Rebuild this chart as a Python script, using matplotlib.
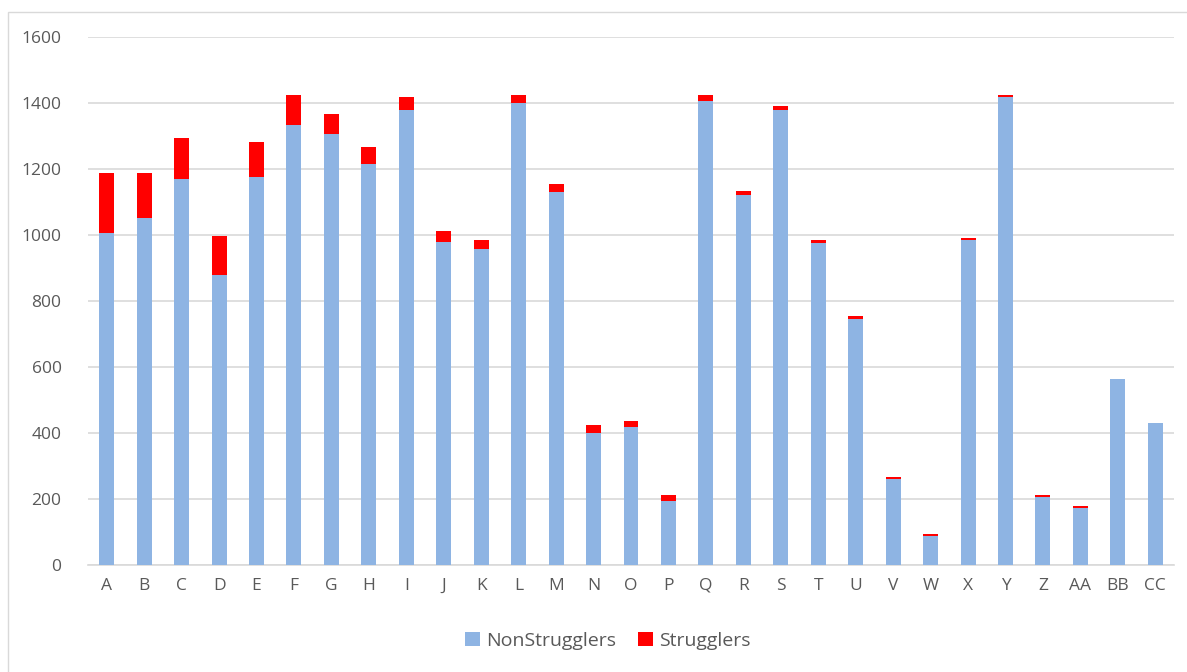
import matplotlib.pyplot as plt
from matplotlib.patches import Rectangle
import numpy as np

# Categories and stacked values
categories = ['A', 'B', 'C', 'D', 'E', 'F', 'G', 'H', 'I', 'J', 'K', 'L', 'M', 'N', 'O',
              'P', 'Q', 'R', 'S', 'T', 'U', 'V', 'W', 'X', 'Y', 'Z', 'AA', 'BB', 'CC']
non_strugglers = [1007, 1053, 1171, 879, 1177, 1334, 1306, 1216, 1379, 980, 957, 1401, 1131, 401, 418,
                  194, 1407, 1120, 1379, 975, 744, 260, 88, 985, 1418, 205, 172, 565, 430]
strugglers = [180, 134, 124, 119, 106, 89, 61, 51, 39, 33, 29, 22, 24, 24, 17,
              17, 16, 12, 12, 11, 10, 6, 6, 7, 5, 6, 6, 0, 0]
y_ticks = [0, 200, 400, 600, 800, 1000, 1200, 1400, 1600]

plt.rcParams['font.family'] = ['Open Sans', 'DejaVu Sans']

W, H = 1187, 672
fig = plt.figure(figsize=(W / 100, H / 100), dpi=100)
ax = fig.add_axes([88 / W, (H - 565) / H, (1174 - 88) / W, (565 - 37) / H])

x = np.arange(len(categories))
ax.bar(x, non_strugglers, width=0.4, color='#8EB4E3', label='NonStrugglers', zorder=3)
ax.bar(x, strugglers, width=0.4, bottom=non_strugglers, color='#FF0000', label='Strugglers', zorder=3)

ax.set_xlim(-0.5, len(categories) - 0.5)
ax.set_ylim(0, 1600)
ax.set_yticks(y_ticks)
ax.set_xticks(x)
ax.set_xticklabels(categories)

# Excel-like styling
ax.grid(axis='y', color='#D9D9D9', linewidth=1.2, zorder=0)
for side in ['top', 'right', 'left']:
    ax.spines[side].set_visible(False)
ax.spines['bottom'].set_color('#D9D9D9')
ax.spines['bottom'].set_linewidth(1.2)
ax.tick_params(axis='both', length=0, labelsize=12.5, colors='#595959')
ax.tick_params(axis='y', pad=19)
ax.tick_params(axis='x', pad=9)

# legend centred under the plot, slightly right like the original
ax.legend(loc='center', bbox_to_anchor=(608 / W, (H - 641) / H), bbox_transform=fig.transFigure,
          ncol=2, frameon=False, fontsize=14, labelcolor='#595959',
          handlelength=0.75, handleheight=0.75, handletextpad=0.35, columnspacing=1.1)

# chart border
fig.add_artist(Rectangle((8 / W, -0.05), 1.2, (H - 11.5) / H + 0.05, transform=fig.transFigure,
                         fill=False, edgecolor='#D9D9D9', linewidth=1))

fig.savefig('out.png', dpi=100)
